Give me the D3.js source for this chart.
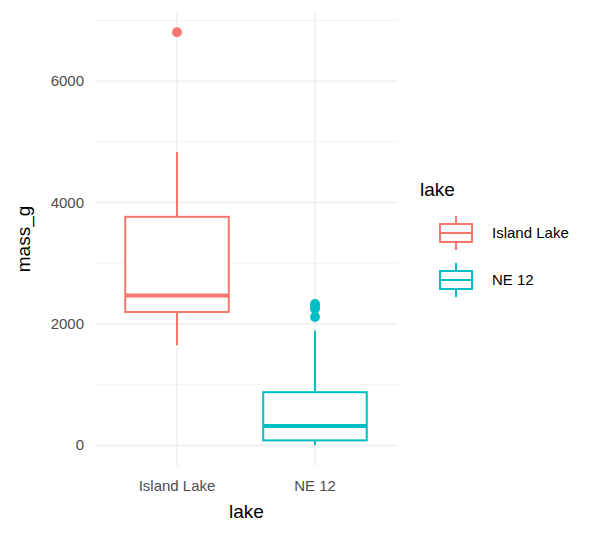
<!DOCTYPE html><html><head><script src="https://cdn.jsdelivr.net/npm/d3@7"></script>
<style>body{margin:0;background:#fff}text{font-family:"Liberation Sans",Arial,sans-serif}</style></head><body>
<script>
const categories=["Island Lake","NE 12"];
const colors=["#F8766D","#00BFC4"];
const lower=[1650,5], q1=[2197,82], median=[2470,317], q3=[3765,876], upper=[4833,1890];
const outliers=[[6806],[2115,2250,2300,2330]];
const yTicks=[0,2000,4000,6000];
const W=614,H=537;
const svg=d3.select("body").append("svg").attr("width",W).attr("height",H);
const L=95,R=398,T=12,B=466;
const x=d3.scaleBand().domain(categories).range([108,384]).padding(0);
const y=d3.scaleLinear().domain([-340,7140]).range([B,T]);
const g=svg.append("g");
[-1000,1000,3000,5000,7000].forEach(v=>{if(y(v)>T&&y(v)<B)g.append("line").attr("x1",L).attr("x2",R).attr("y1",y(v)).attr("y2",y(v)).attr("stroke","#ebebeb").attr("stroke-width",0.6)});
yTicks.forEach(v=>g.append("line").attr("x1",L).attr("x2",R).attr("y1",y(v)).attr("y2",y(v)).attr("stroke","#ebebeb").attr("stroke-width",1.2));
categories.forEach(c=>{const cx=x(c)+x.bandwidth()/2;g.append("line").attr("x1",cx).attr("x2",cx).attr("y1",T).attr("y2",B).attr("stroke","#ebebeb").attr("stroke-width",1.2)});
yTicks.forEach(v=>svg.append("text").attr("x",L-11).attr("y",y(v)+5).attr("text-anchor","end").attr("font-size",15).attr("fill","#4d4d4d").text(v));
categories.forEach(c=>svg.append("text").attr("x",x(c)+x.bandwidth()/2).attr("y",B+25).attr("text-anchor","middle").attr("font-size",15).attr("fill","#4d4d4d").text(c));
const bw=x.bandwidth()*0.75;
categories.forEach((c,i)=>{const cx=x(c)+x.bandwidth()/2,col=colors[i];
 g.append("line").attr("x1",cx).attr("x2",cx).attr("y1",y(upper[i])).attr("y2",y(q3[i])).attr("stroke",col).attr("stroke-width",2);
 g.append("line").attr("x1",cx).attr("x2",cx).attr("y1",y(lower[i])).attr("y2",y(q1[i])).attr("stroke",col).attr("stroke-width",2);
 g.append("rect").attr("x",cx-bw/2).attr("y",y(q3[i])).attr("width",bw).attr("height",y(q1[i])-y(q3[i])).attr("fill","#fff").attr("stroke",col).attr("stroke-width",2);
 g.append("line").attr("x1",cx-bw/2).attr("x2",cx+bw/2).attr("y1",y(median[i])).attr("y2",y(median[i])).attr("stroke",col).attr("stroke-width",4);
 outliers[i].forEach(o=>g.append("circle").attr("cx",cx).attr("cy",y(o)).attr("r",5).attr("fill",col));
});
svg.append("text").attr("x",(L+R)/2).attr("y",518).attr("text-anchor","middle").attr("font-size",19).text("lake");
svg.append("text").attr("transform",`translate(30,${(T+B)/2}) rotate(-90)`).attr("text-anchor","middle").attr("font-size",19).text("mass_g");
svg.append("text").attr("x",420).attr("y",196).attr("font-size",19).text("lake");
categories.forEach((c,i)=>{const ly=216+i*47,col=colors[i],lx=438;
 const lg=svg.append("g");
 lg.append("line").attr("x1",lx+18).attr("x2",lx+18).attr("y1",ly).attr("y2",ly+34).attr("stroke",col).attr("stroke-width",2);
 lg.append("rect").attr("x",lx+2).attr("y",ly+8).attr("width",32).attr("height",18).attr("fill","#fff").attr("stroke",col).attr("stroke-width",2);
 lg.append("line").attr("x1",lx+2).attr("x2",lx+34).attr("y1",ly+17).attr("y2",ly+17).attr("stroke",col).attr("stroke-width",2);
 svg.append("text").attr("x",lx+54).attr("y",ly+22).attr("font-size",15).text(c);
});
</script></body></html>
